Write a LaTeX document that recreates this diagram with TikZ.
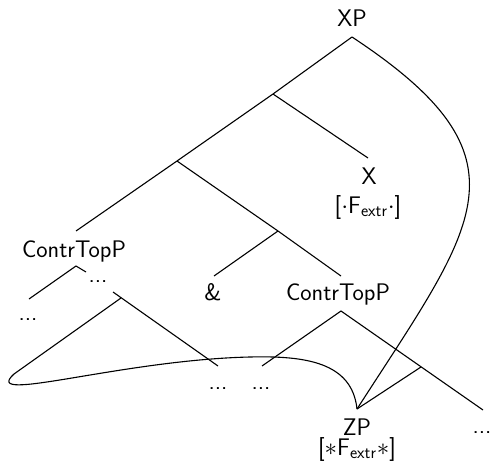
\documentclass[tikz,border=0pt]{standalone}
\begin{document}
\begin{tikzpicture}[x=1pt,y=-1pt,line width=1.1pt,
  lbl/.style={font=\sffamily\fontsize{24}{28}\selectfont,inner sep=0pt,anchor=base}]
\useasboundingbox (0,0) rectangle (490,468);
% junctions and branch ends
\coordinate (xp) at (352,37);
\coordinate (n1) at (273,94);
\coordinate (n2) at (177,161);
\coordinate (c1) at (76,231);
\coordinate (xe) at (368,158);
\coordinate (n3) at (278,231);
\coordinate (ae) at (214,276);
\coordinate (c2) at (341,276);
\coordinate (c1j) at (76,266);
\coordinate (c1l) at (29,299);
\coordinate (c1r) at (86,272);
\coordinate (d1a) at (113,292);
\coordinate (d1j) at (121,298);
\coordinate (d1e) at (218,366);
\coordinate (c2j) at (341,311);
\coordinate (c2l) at (262,366);
\coordinate (c2r) at (483,410);
\coordinate (c2m) at (421,367);
\coordinate (zp) at (357,409);
\coordinate (loopa) at (250,357);
\coordinate (loopb) at (14,374);
% labels
\node[lbl] (XP) at (352,27) {XP};
\node[lbl] (X) at (369,184) {X};
\node[lbl] (Xf) at (368,213) {[$\cdot$F$_{\mathsf{extr}}$$\cdot$]};
\node[lbl] (CT1) at (74,257) {ContrTopP};
\node[lbl] (amp) at (213,300) {\&};
\node[lbl] (CT2) at (338,300) {ContrTopP};
\node[lbl] (d1) at (98,282) {...};
\node[lbl] (d2) at (28,320) {...};
\node[lbl] (d3) at (218,389) {...};
\node[lbl] (d4) at (261,389) {...};
\node[lbl,anchor=base west] (d5) at (472,433) {...};
\node[lbl] (ZP) at (357,435) {ZP};
\node[lbl] (Zf) at (357,455) {[$\ast$F$_{\mathsf{extr}}$$\ast$]};
% tree branches
\draw (xp) -- (n1) -- (n2) -- (c1);
\draw (n1) -- (xe);
\draw (n2) -- (n3) -- (c2);
\draw (n3) -- (ae);
\draw (c1l) -- (c1j) -- (c1r);
\draw (d1a) -- (d1e);
\draw (c2l) -- (c2j) -- (c2r);
\draw (c2m) -- (zp);
% curves
\draw (xp) .. controls (537,159) and (476,224) .. (zp);
\draw (zp) .. controls (352,362) and (305,355.7) .. (loopa)
  .. controls (120,360) and (-20,405) .. (loopb) -- (d1j);
\end{tikzpicture}
\end{document}
